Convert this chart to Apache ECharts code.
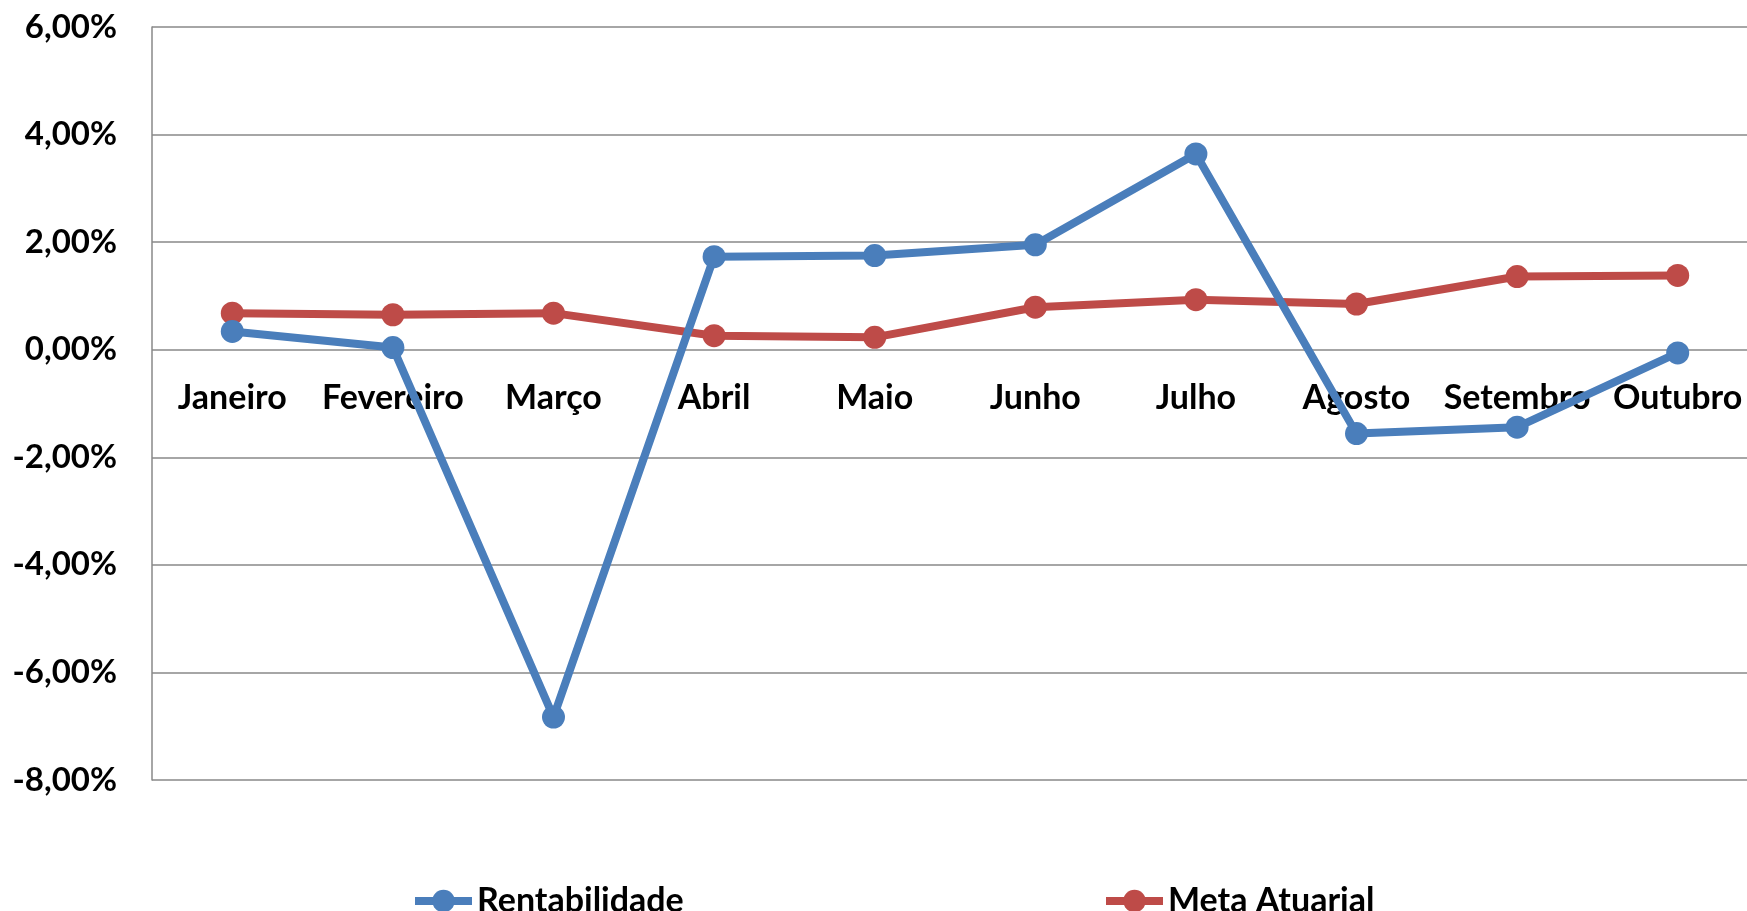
<!DOCTYPE html>
<html>
<head>
<meta charset="utf-8">
<script src="https://cdn.jsdelivr.net/npm/echarts@6/dist/echarts.min.js"></script>
<style>
  html, body { margin: 0; padding: 0; background: #fff; }
  #chart { width: 1747px; height: 911px; }
</style>
</head>
<body>
<div id="chart"></div>
<script>
// meses
const meses = ['Janeiro', 'Fevereiro', 'Março', 'Abril', 'Maio', 'Junho', 'Julho', 'Agosto', 'Setembro', 'Outubro']
// valores em %
const rentabilidade = [0.34, 0.04, -6.83, 1.73, 1.75, 1.95, 3.64, -1.56, -1.44, -0.06]
const metaAtuarial = [0.68, 0.65, 0.68, 0.26, 0.23, 0.79, 0.93, 0.85, 1.36, 1.38]

const fonte = 'Lato'
const azul = '#4A7EBB'
const vermelho = '#BE4B48'
let myChart = echarts.init(document.getElementById('chart'))

const legenda = (nome, esquerda) => ({
  left: esquerda,
  top: 884,
  padding: 0,
  itemWidth: 57,
  itemHeight: 28,
  lineStyle: { width: 8 },
  textStyle: { fontFamily: fonte, fontWeight: 'bold', fontSize: 34, color: '#000' },
  data: [nome]
})

myChart.setOption({
  animation: false,
  textStyle: { fontFamily: fonte },
  // a área do gráfico passa um pouco da borda direita (como no original)
  grid: {
    left: 152, width: 1606, top: 27, bottom: 131,
    containLabel: false,
    outerBoundsMode: 'none'
  },
  legend: [legenda('Rentabilidade', 411), legenda('Meta Atuarial', 1102)],
  xAxis: {
    type: 'category',
    data: meses,
    boundaryGap: true,
    offset: -430,   // rótulos junto da linha do zero
    axisLine: { show: false },
    axisTick: { show: false },
    axisLabel: {
      margin: 31,
      fontFamily: fonte, fontWeight: 'bold', fontSize: 34, color: '#000',
      interval: 0
    }
  },
  yAxis: {
    type: 'value',
    min: -8, max: 6, interval: 2,
    axisLine: { show: true, lineStyle: { color: '#888', width: 1.5 } },
    axisTick: { show: false },
    splitLine: { lineStyle: { color: '#888', width: 1.5 } },
    axisLabel: {
      margin: 35,
      fontFamily: fonte, fontWeight: 'bold', fontSize: 33, color: '#000',
      formatter: v => v.toFixed(2).replace('.', ',') + '%'
    }
  },
  series: [
    {
      name: 'Rentabilidade',
      type: 'line',
      data: rentabilidade,
      symbol: 'circle',
      symbolSize: 23,
      lineStyle: { width: 8, color: azul },
      itemStyle: { color: azul },
      z: 3
    },
    {
      name: 'Meta Atuarial',
      type: 'line',
      data: metaAtuarial,
      symbol: 'circle',
      symbolSize: 23,
      lineStyle: { width: 8, color: vermelho },
      itemStyle: { color: vermelho },
      z: 2
    }
  ]
})
</script>
</body>
</html>
